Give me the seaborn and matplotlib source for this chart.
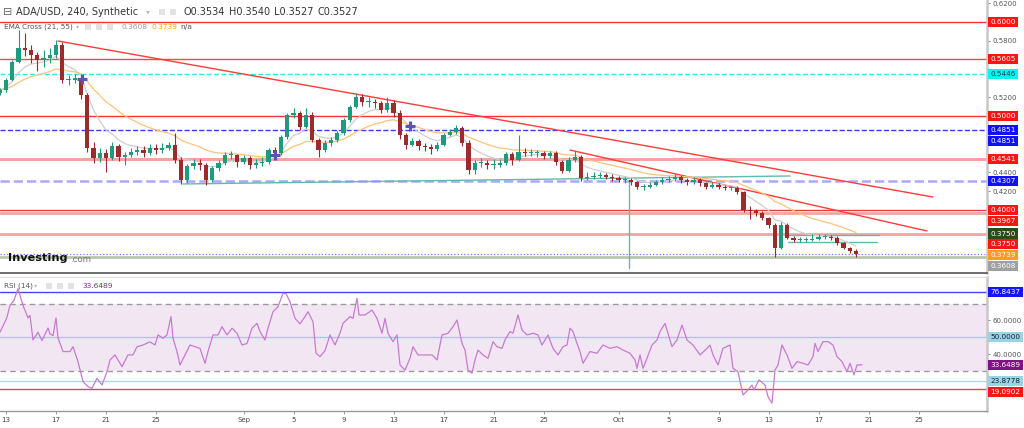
import numpy as np
import pandas as pd
import matplotlib
matplotlib.use("Agg")
import matplotlib.pyplot as plt
import seaborn as sns
from matplotlib.transforms import IdentityTransform

sns.set_theme(style="white")
plt.rcParams['font.family'] = ['DejaVu Sans']

# ---------------- data ----------------
base_date = "2022-08-13"
first_bar_day = -0.5      # days after base_date
bar_step_days = 0.5       # 12h bars
first_open = 0.5240
close = [0.5277, 0.5383, 0.5574, 0.5723, 0.5702, 0.5649, 0.5596, 0.5617, 0.5649, 0.5755,
         0.5383, 0.5383, 0.5404, 0.5223, 0.4660, 0.4553, 0.4606, 0.4553, 0.4681, 0.4564,
         0.4585, 0.4617, 0.4638, 0.4606, 0.4660, 0.4638, 0.4660, 0.4692, 0.4532, 0.4319,
         0.4468, 0.4500, 0.4479, 0.4319, 0.4447, 0.4500, 0.4585, 0.4585, 0.4511, 0.4553,
         0.4479, 0.4500, 0.4511, 0.4638, 0.4606, 0.4777, 0.5011, 0.5032, 0.4883, 0.5011,
         0.4745, 0.4638, 0.4713, 0.4745, 0.4819, 0.4957, 0.5096, 0.5202, 0.5149, 0.5149,
         0.5138, 0.5064, 0.5138, 0.5032, 0.4798, 0.4692, 0.4734, 0.4681, 0.4670, 0.4649,
         0.4692, 0.4798, 0.4830, 0.4872, 0.4713, 0.4426, 0.4500, 0.4500, 0.4479, 0.4479,
         0.4500, 0.4596, 0.4532, 0.4617, 0.4606, 0.4606, 0.4606, 0.4574, 0.4606, 0.4511,
         0.4415, 0.4532, 0.4564, 0.4340, 0.4351, 0.4362, 0.4372, 0.4351, 0.4340, 0.4319,
         0.4319, 0.4298, 0.4245, 0.4245, 0.4266, 0.4298, 0.4319, 0.4330, 0.4351, 0.4319,
         0.4298, 0.4319, 0.4287, 0.4245, 0.4266, 0.4245, 0.4234, 0.4234, 0.4191, 0.4000,
         0.3989, 0.3968, 0.3915, 0.3840, 0.3596, 0.3840, 0.3702, 0.3681, 0.3681, 0.3681,
         0.3692, 0.3713, 0.3713, 0.3702, 0.3649, 0.3596, 0.3564, 0.3527]
high = [0.5300, 0.5400, 0.5600, 0.5915, 0.5880, 0.5760, 0.5680, 0.5700, 0.5720, 0.5810,
        0.5790, 0.5440, 0.5450, 0.5430, 0.5240, 0.4720, 0.4660, 0.4650, 0.4720, 0.4700,
        0.4620, 0.4660, 0.4680, 0.4680, 0.4700, 0.4700, 0.4710, 0.4720, 0.4820, 0.4560,
        0.4490, 0.4540, 0.4540, 0.4500, 0.4470, 0.4530, 0.4620, 0.4630, 0.4600, 0.4590,
        0.4570, 0.4540, 0.4560, 0.4660, 0.4670, 0.4800, 0.5030, 0.5080, 0.5050, 0.5090,
        0.5040, 0.4770, 0.4740, 0.4780, 0.4840, 0.4980, 0.5120, 0.5240, 0.5230, 0.5200,
        0.5180, 0.5160, 0.5200, 0.5170, 0.5060, 0.4820, 0.4770, 0.4760, 0.4710, 0.4700,
        0.4720, 0.4820, 0.4860, 0.4900, 0.4890, 0.4740, 0.4530, 0.4550, 0.4530, 0.4540,
        0.4540, 0.4620, 0.4620, 0.4800, 0.4660, 0.4650, 0.4640, 0.4630, 0.4630, 0.4630,
        0.4530, 0.4560, 0.4630, 0.4580, 0.4400, 0.4400, 0.4400, 0.4390, 0.4380, 0.4360,
        0.4350, 0.4340, 0.4310, 0.4280, 0.4300, 0.4320, 0.4350, 0.4360, 0.4380, 0.4370,
        0.4340, 0.4350, 0.4340, 0.4300, 0.4300, 0.4290, 0.4270, 0.4260, 0.4250, 0.4200,
        0.4040, 0.4010, 0.3990, 0.3930, 0.3860, 0.3870, 0.3860, 0.3720, 0.3710, 0.3710,
        0.3740, 0.3750, 0.3740, 0.3730, 0.3720, 0.3660, 0.3610, 0.3580]
low = [0.5220, 0.5260, 0.5370, 0.5560, 0.5640, 0.5560, 0.5480, 0.5520, 0.5560, 0.5620,
       0.5350, 0.5330, 0.5350, 0.5180, 0.4620, 0.4500, 0.4510, 0.4400, 0.4530, 0.4520,
       0.4480, 0.4560, 0.4580, 0.4560, 0.4580, 0.4600, 0.4610, 0.4640, 0.4500, 0.4280,
       0.4290, 0.4440, 0.4430, 0.4270, 0.4300, 0.4420, 0.4480, 0.4540, 0.4460, 0.4490,
       0.4440, 0.4450, 0.4470, 0.4490, 0.4570, 0.4590, 0.4760, 0.4980, 0.4850, 0.4870,
       0.4720, 0.4560, 0.4620, 0.4680, 0.4720, 0.4800, 0.4940, 0.5080, 0.5110, 0.5100,
       0.5090, 0.5030, 0.5040, 0.4990, 0.4750, 0.4650, 0.4680, 0.4640, 0.4630, 0.4600,
       0.4630, 0.4680, 0.4790, 0.4810, 0.4680, 0.4380, 0.4380, 0.4460, 0.4440, 0.4440,
       0.4460, 0.4480, 0.4480, 0.4520, 0.4570, 0.4570, 0.4560, 0.4540, 0.4550, 0.4480,
       0.4390, 0.4400, 0.4510, 0.4310, 0.4320, 0.4330, 0.4340, 0.4330, 0.4310, 0.4300,
       0.4290, 0.4270, 0.4220, 0.4210, 0.4230, 0.4250, 0.4280, 0.4300, 0.4310, 0.4290,
       0.4270, 0.4280, 0.4260, 0.4220, 0.4230, 0.4220, 0.4210, 0.4210, 0.4170, 0.3980,
       0.3900, 0.3940, 0.3890, 0.3810, 0.3500, 0.3580, 0.3690, 0.3660, 0.3660, 0.3660,
       0.3670, 0.3680, 0.3690, 0.3680, 0.3630, 0.3580, 0.3540, 0.3500]

rsi_day = [-0.48, 0.06, 0.32, 0.64, 0.96, 1.36, 1.76, 1.92, 2.16, 2.56, 2.88, 3.36, 3.52, 3.76,
           4.00, 4.16, 4.56, 5.12, 5.36, 5.76, 6.16, 6.56, 6.88, 7.28, 7.68, 8.08, 8.32, 8.72,
           9.28, 9.76, 10.16, 10.48, 10.96, 11.52, 11.92, 12.16, 12.56, 12.88, 13.20, 13.36,
           13.68, 13.92, 14.32, 14.72, 15.12, 15.52, 15.92, 16.16, 16.56, 16.96, 17.28, 17.68,
           18.08, 18.48, 18.88, 19.28, 19.68, 20.08, 20.32, 20.72, 20.96, 21.36, 21.76, 22.16,
           22.40, 22.72, 23.12, 23.52, 23.92, 24.16, 24.56, 24.80, 25.12, 25.52, 25.92, 26.32,
           26.72, 26.96, 27.52, 27.76, 28.08, 28.24, 28.72, 29.28, 29.68, 30.08, 30.32, 30.56,
           30.96, 31.28, 31.52, 31.92, 32.32, 32.56, 32.96, 33.52, 34.08, 34.48, 34.88, 35.36,
           35.76, 36.08, 36.48, 36.72, 36.96, 37.28, 37.52, 37.76, 38.16, 38.56, 38.96, 39.28,
           39.68, 39.92, 40.32, 40.56, 40.96, 41.28, 41.68, 42.16, 42.56, 42.88, 43.36, 43.76,
           44.16, 44.56, 44.88, 45.12, 45.36, 45.68, 45.92, 46.16, 46.72, 47.28, 47.76, 48.32,
           48.88, 49.36, 49.92, 50.32, 50.48, 50.72, 50.96, 51.28, 51.68, 52.08, 52.32, 52.72,
           52.96, 53.28, 53.68, 54.08, 54.48, 54.96, 55.52, 56.08, 56.32, 56.56, 56.96, 57.36,
           57.92, 58.16, 58.56, 58.96, 59.36, 59.68, 59.84, 60.24, 60.72, 60.96, 61.28, 61.52,
           61.76, 62.08, 62.48, 62.88, 63.28, 63.76, 64.16, 64.56, 64.72, 64.96, 65.36, 65.76,
           66.16, 66.48, 66.88, 67.28, 67.52, 67.84, 68.08, 68.48]
rsi_val = [53.0, 61.5, 69.0, 72.0, 79.0, 69.0, 61.5, 63.0, 48.4, 53.0, 48.0, 55.5, 52.0, 51.0,
           61.5, 49.6, 41.5, 41.5, 44.4, 35.5, 23.6, 20.6, 19.6, 25.6, 21.6, 29.5, 36.5, 39.5,
           32.5, 39.5, 39.5, 44.4, 45.4, 47.3, 45.4, 51.4, 49.4, 51.4, 62.3, 49.4,
           41.5, 33.5, 39.5, 45.4, 44.4, 43.4, 34.5, 41.5, 51.4, 51.4, 56.3, 51.4,
           55.4, 52.4, 45.4, 46.3, 55.4, 58.3, 53.4, 48.4, 55.4, 65.2, 68.2, 76.2,
           76.0, 71.2, 61.3, 58.0, 62.3, 65.2, 59.3, 40.5, 38.5, 42.0, 51.4, 45.4,
           52.4, 58.3, 62.3, 61.3, 73.2, 63.3, 63.3, 66.2, 61.3, 52.4, 61.3, 52.4,
           47.4, 51.4, 33.5, 30.5, 37.5, 44.4, 39.5, 39.5, 39.5, 36.5, 51.4, 52.4,
           56.3, 60.3, 46.4, 42.4, 30.5, 28.6, 36.5, 42.4, 39.5, 37.5, 47.4, 44.4,
           43.4, 48.4, 53.4, 52.4, 63.3, 54.4, 51.4, 52.4, 51.4, 45.4, 51.4, 43.4,
           39.5, 44.4, 45.4, 55.4, 53.4, 46.4, 41.5, 34.5, 41.5, 40.5, 45.4, 43.4,
           44.4, 42.4, 40.5, 36.5, 31.5, 39.5, 31.5, 37.5, 45.4, 48.4, 53.4, 58.3,
           52.4, 44.4, 48.4, 57.3, 48.4, 45.4, 39.5, 43.4, 45.4, 39.5, 33.5, 43.4,
           45.4, 31.5, 29.5, 15.7, 18.6, 21.6, 18.6, 24.6, 21.6, 14.7, 10.7, 30.5,
           33.5, 45.4, 39.5, 31.5, 35.5, 34.5, 33.5, 38.5, 46.4, 41.5, 47.4, 47.4,
           45.4, 38.5, 35.5, 29.5, 34.5, 27.6, 33.5, 33.6]

# horizontal levels (price, colour, linestyle, width)
level_price = [0.6000, 0.5605, 0.5446, 0.5000, 0.4851, 0.4541, 0.4307, 0.4000, 0.3967, 0.3750, 0.3527, 0.3503]
level_color = ['#ff3333', '#f24a4a', '#33e6e6', '#ff3333', '#3b3bff', '#f7a3a3', '#a8a8ff', '#e83c3c', '#f7a3a3', '#f7a3a3', '#6a7cff', '#b8c6ac']
level_style = ['-', '-', '--', '-', '--', '-', '--', '-', '-', '-', ':', '-']
level_width = [1.0, 1.0, 1.0, 1.0, 1.0, 2.2, 1.8, 1.0, 2.0, 2.0, 0.9, 2.0]

# drawn trend lines (day, price)
trend_red1_day, trend_red1_price = [4.16, 74.16], [0.5798, 0.4138]
trend_red2_day, trend_red2_price = [45.12, 73.68], [0.4638, 0.3777]
teal_long_day, teal_long_price = [14.16, 62.72], [0.4277, 0.4362]
teal_hi_day, teal_hi_price = [62.56, 69.84], [0.3731, 0.3731]
teal_lo_day, teal_lo_price = [62.56, 69.68], [0.3663, 0.3663]
teal_vert_day, teal_vert_price = [49.84, 49.84], [0.4319, 0.3383]

cross_day = [6.05, 21.52, 32.32]
cross_price = [0.5390, 0.4585, 0.4894]

# right-axis value tags (value, background, text colour)
price_tag_val = [0.6000, 0.5605, 0.5446, 0.5000, 0.4851, 0.4851, 0.4541, 0.4307, 0.4000, 0.3967, 0.3750, 0.3750, 0.3739, 0.3608]
price_tag_bg = ['#ff1414', '#ff1414', '#00f5f5', '#ff1414', '#1010ff', '#1010ff', '#ff1414', '#1010ff', '#ff1414', '#ff1414', '#2c4a18', '#ff1414', '#ff9c1a', '#a0a0a0']
price_tag_fg = ['white', 'white', '#064040', 'white', 'white', 'white', 'white', 'white', 'white', 'white', 'white', 'white', 'white', 'white']
rsi_tag_val = [76.8437, 50.0000, 33.6489, 23.8778, 19.0902]
rsi_tag_bg = ['#1414ff', '#9ad3e3', '#7e127e', '#9ad3e3', '#ff1414']
rsi_tag_fg = ['white', '#112233', 'white', '#112233', 'white']

rsi_levels = [76.8437, 70, 50, 30, 23.8778, 19.0902]
rsi_level_color = ['#4444ff', '#9a9a9a', '#9dcfe0', '#9a9a9a', '#a8dbe6', '#ff3a3a']
rsi_level_dashed = [False, True, False, True, False, False]

tick_dates = ['2022-08-13', '2022-08-17', '2022-08-21', '2022-08-25', '2022-09-01', '2022-09-05',
              '2022-09-09', '2022-09-13', '2022-09-17', '2022-09-21', '2022-09-25', '2022-10-01',
              '2022-10-05', '2022-10-09', '2022-10-13', '2022-10-17', '2022-10-21', '2022-10-25']

# ---------------- derived ----------------
c = np.array(close)
h = np.array(high)
l = np.array(low)
o = np.r_[first_open, c[:-1]]
t = first_bar_day + bar_step_days * np.arange(len(c))
cs = pd.Series(c)
ema_fast = cs.ewm(span=7, adjust=False).mean().values
ema_slow = cs.ewm(span=19, adjust=False).mean().values
ema_df = pd.DataFrame({'day': t, 'fast': ema_fast, 'slow': ema_slow})

base = pd.Timestamp(base_date)
tick_ts = [pd.Timestamp(d) for d in tick_dates]
tick_day = [(d - base).days for d in tick_ts]
tick_lab = [d.strftime('%b') if d.day == 1 else str(d.day) for d in tick_ts]

# ---------------- figure ----------------
W, H = 1024, 428
fig = plt.figure(figsize=(W / 100, H / 100), dpi=100)
fig.patch.set_facecolor('white')

def rect(x0, y0, x1, y1):
    return [x0 / W, 1 - y1 / H, (x1 - x0) / W, (y1 - y0) / H]

ax = fig.add_axes(rect(0, 0, 987, 273))
ax2 = fig.add_axes(rect(0, 277, 987, 411), sharex=ax)

xlim = (-0.48, 78.48)
ax.set_xlim(*xlim)
ax.set_ylim(0.33298, 0.62340)
ax2.set_ylim(6.1, 85.9)

# levels
for p, colr, ls, lw in zip(level_price, level_color, level_style, level_width):
    ax.axhline(p, color=colr, ls=ls, lw=lw, zorder=1)

# trend lines
ax.plot(trend_red1_day, trend_red1_price, color='#ff3b3b', lw=1.0, zorder=2)
ax.plot(trend_red2_day, trend_red2_price, color='#ff3b3b', lw=1.0, zorder=2)
for dd, pp in [(teal_long_day, teal_long_price), (teal_hi_day, teal_hi_price),
               (teal_lo_day, teal_lo_price), (teal_vert_day, teal_vert_price)]:
    ax.plot(dd, pp, color='#62bba9', lw=1.0, zorder=2)

# EMAs
sns.lineplot(data=ema_df, x='day', y='fast', ax=ax, color='#cfcfcf', lw=0.9, zorder=3)
sns.lineplot(data=ema_df, x='day', y='slow', ax=ax, color='#ffc27a', lw=0.9, zorder=3)

# candles
up = c >= o
col = np.where(up, '#1e9a7e', '#9c2b2b')
ax.vlines(t, l, h, colors=col, lw=0.8, zorder=4)
body = np.maximum(np.abs(c - o), 0.0009)
ax.bar(t, body, bottom=np.minimum(o, c), width=0.34, color=col, zorder=5, linewidth=0)

# crosses
sns.scatterplot(x=cross_day, y=cross_price, ax=ax, marker='+', s=45, color='#5a54b8',
                linewidth=2.2, zorder=6)

ax.set_xlabel('')
ax.set_ylabel('')

# RSI panel
ax2.axhspan(30, 70, color='#f3e6f3', zorder=0, lw=0)
for v, colr, dashed in zip(rsi_levels, rsi_level_color, rsi_level_dashed):
    if dashed:
        ax2.axhline(v, color=colr, lw=1.0, zorder=1, ls=(0, (4, 3)))
    else:
        ax2.axhline(v, color=colr, lw=1.0, zorder=1)
sns.lineplot(x=rsi_day, y=rsi_val, ax=ax2, color='#c77ad2', lw=0.9, zorder=3)
ax2.set_xlabel('')
ax2.set_ylabel('')

# axes styling
for a in (ax, ax2):
    a.yaxis.tick_right()
    a.tick_params(axis='y', length=2.5, width=0.6, colors='#777777', labelsize=5, pad=1.5,
                  labelcolor='#555555')
    a.spines['left'].set_visible(False)
    a.spines['right'].set_color('#c8c8c8')
    a.spines['right'].set_linewidth(1.8)
    a.set_facecolor('white')
ax.spines['top'].set_visible(False)
ax.spines['bottom'].set_color('#555555')
ax.spines['bottom'].set_linewidth(1.2)
ax2.spines['top'].set_color('#dddddd')
ax2.spines['top'].set_linewidth(0.8)
ax2.spines['bottom'].set_color('#9a9a9a')
ax2.spines['bottom'].set_linewidth(1.0)

ax.set_yticks(np.round(np.arange(0.34, 0.6201, 0.02), 2))
ax.yaxis.set_major_formatter(matplotlib.ticker.FormatStrFormatter('%.4f'))
ax.tick_params(axis='x', bottom=False, labelbottom=False)
ax2.set_yticks([20, 40, 60, 80])
ax2.yaxis.set_major_formatter(matplotlib.ticker.FormatStrFormatter('%.4f'))
ax2.set_xticks(tick_day)
ax2.set_xticklabels(tick_lab)
ax2.tick_params(axis='x', bottom=True, length=2.5, width=0.6, colors='#888888', labelsize=5,
                labelcolor='#444444', pad=2)
ax2.set_xlim(*xlim)

# right value tags (stacked like a trading terminal)
fig.canvas.draw()

def place_tags(a, vals, bgs, fgs, fmt):
    ys = [a.transData.transform((0, v))[1] for v in vals]
    placed = []
    for y in ys:
        if placed and y > placed[-1] - 10.8:
            y = placed[-1] - 10.8
        placed.append(y)
    for y, v, bg, fg in zip(placed, vals, bgs, fgs):
        fig.text(990.5, y, fmt % v, transform=IdentityTransform(), ha='left', va='center',
                 fontsize=5.2, color=fg, zorder=10,
                 bbox=dict(boxstyle='square,pad=0.28', fc=bg, ec='none'))
    # hide axis tick labels that sit under a tag
    for tk in a.yaxis.get_major_ticks():
        ty = a.transData.transform((0, tk.get_loc()))[1]
        if any(abs(ty - py) < 8.5 for py in placed):
            tk.label2.set_visible(False)

place_tags(ax, price_tag_val, price_tag_bg, price_tag_fg, '%.4f')
place_tags(ax2, rsi_tag_val, rsi_tag_bg, rsi_tag_fg, '%.4f')

# header texts
def ftxt(x, y, s, **kw):
    fig.text(x / W, 1 - y / H, s, va='center', ha='left', **kw)

ftxt(3, 12, '\u229f', fontsize=8, color='#666666')
ftxt(16, 12, 'ADA/USD, 240, Synthetic', fontsize=7.0, color='#333333')
ftxt(146, 12, '\u25be', fontsize=5.5, color='#bbbbbb')
ftxt(183, 12, 'O0.3534', fontsize=7.0, color='#333333')
ftxt(229, 12, 'H0.3540', fontsize=7.0, color='#333333')
ftxt(274, 12, 'L0.3527', fontsize=7.0, color='#333333')
ftxt(317, 12, 'C0.3527', fontsize=7.0, color='#333333')
ftxt(4, 27, 'EMA Cross (21, 55)', fontsize=5.2, color='#555555')
ftxt(76, 27, '\u25be', fontsize=4.5, color='#bbbbbb')
ftxt(122, 27, '0.3608', fontsize=5.4, color='#9a9a9a')
ftxt(152, 27, '0.3739', fontsize=5.4, color='#ff9c1a')
ftxt(180, 27, 'n/a', fontsize=5.4, color='#555555')
ftxt(4, 286, 'RSI (14)', fontsize=5.2, color='#555555')
ftxt(34, 286, '\u25be', fontsize=4.5, color='#bbbbbb')
ftxt(82, 286, '33.6489', fontsize=5.4, color='#8e2a9a')
ftxt(8, 258, 'Investing', fontsize=8.1, color='#111111', fontweight='bold')
ftxt(70, 259.5, '.com', fontsize=6.2, color='#777777')

# small icon boxes in legends
for (x, y, s) in [(162, 12, 6), (173, 12, 6), (88, 27, 6), (99, 27, 6), (110, 27, 6),
                  (49, 286, 6), (60, 286, 6), (71, 286, 6)]:
    fig.patches.append(matplotlib.patches.Rectangle(((x - s / 2) / W, 1 - (y + s / 2) / H), s / W, s / H,
                       transform=fig.transFigure, fc='#e2e2e2', ec='none', zorder=10))

fig.savefig('out.png', dpi=100)
